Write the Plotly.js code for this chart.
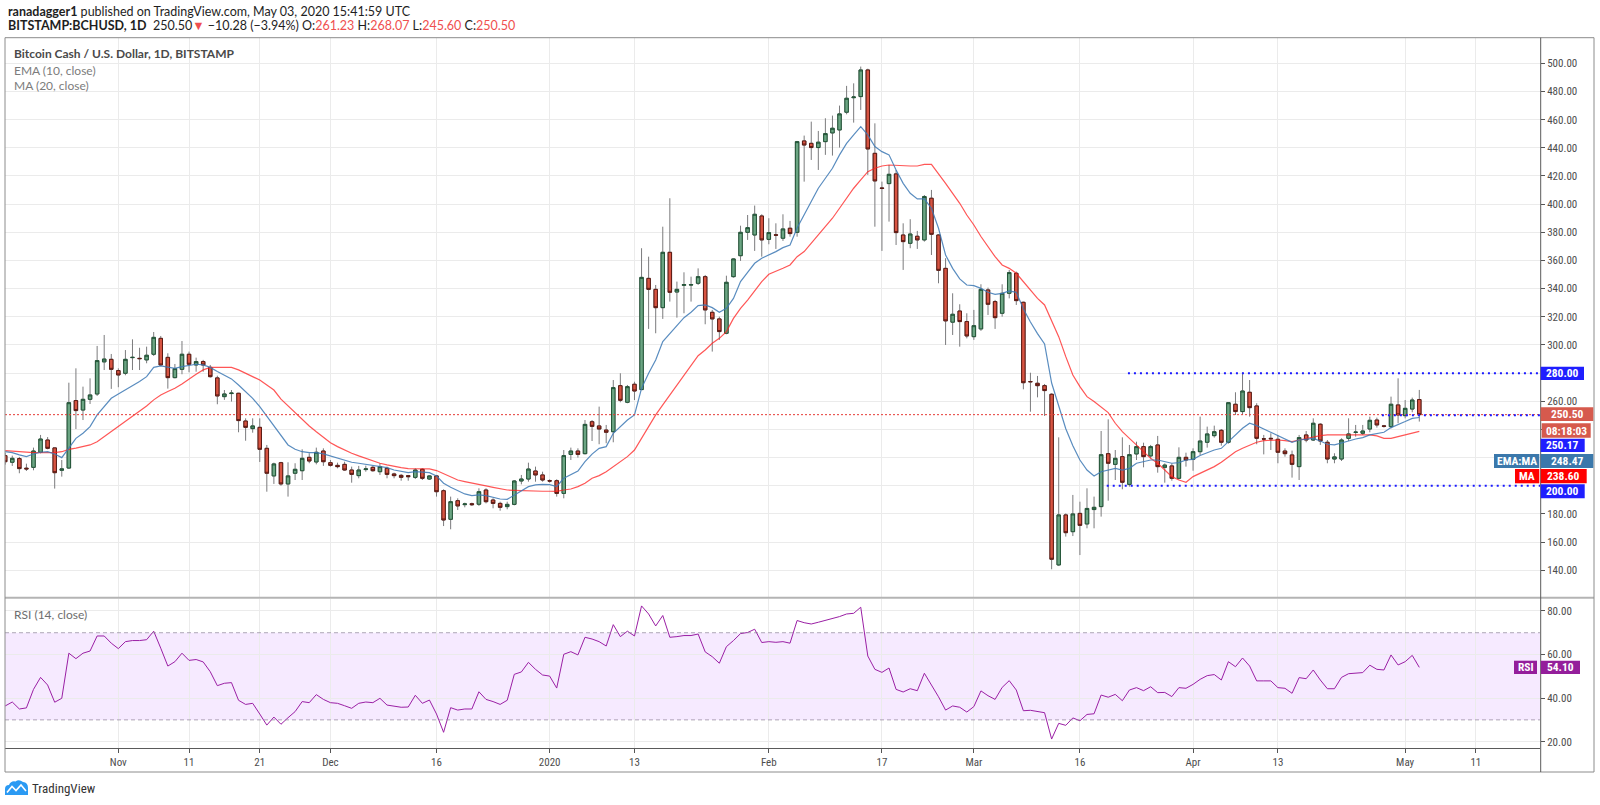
<!DOCTYPE html>
<html>
<head>
<meta charset="utf-8">
<script src="https://cdn.plot.ly/plotly-3.0.1.min.js"></script>
<style>
  html, body { margin:0; padding:0; background:#fff; }
  #chart { width:1600px; height:805px; }
</style>
</head>
<body>
<div id="chart"></div>
<script>
// ---------------- DATA (BCH/USD daily, Bitstamp, 2019-10-16 .. 2020-05-03) ----------------
const startDate = '2019-10-16';

const openPx = [
  221.4,216.7,219.3,212.5,213.1,223.8,232.5,226.9,211.0,212.6,260.5,253.8,261.4,265.2,288.0,289.8,
  281.8,279.9,291.0,290.5,289.4,293.4,304.7,291.2,276.8,282.7,293.4,285.8,288.2,284.1,276.6,263.3,265.5,265.7,246.0,240.6,241.5,226.6,207.0,216.4,201.3,208.9,210.7,220.2,216.9,224.7,
  216.4,214.5,215.2,211.2,207.2,211.5,213.1,210.0,212.4,208.4,207.4,207.2,206.0,211.7,204.8,207.0,196.5,176.2,189.4,186.6,187.3,186.9,197.0,189.9,187.5,185.2,186.8,203.4,204.8,210.5,207.7,
  203.6,203.6,194.6,222.3,224.7,222.8,245.5,242.5,239.6,238.4,271.1,259.3,272.1,268.3,347.3,339.5,326.5,365.8,337.6,342.4,342.6,343.8,348.5,323.2,318.5,308.3,348.5,363.4,380.0,378.1,391.6,
  375.0,378.2,375.8,382.9,380.0,444.9,443.2,440.2,444.4,450.6,452.7,465.3,475.6,476.4,495.3,436.1,411.5,414.6,421.5,378.1,372.2,377.2,374.6,404.2,378.1,354.4,316.2,324.1,316.6,
  305.9,311.4,339.1,330.8,322.5,336.7,350.9,330.3,274.0,272.8,271.1,265.0,143.8,179.3,167.4,180.4,172.9,183.1,185.2,222.8,215.2,220.7,201.0,222.6,227.8,221.2,229.0,213.1,214.1,205.3,220.2,
  218.8,224.2,230.9,235.6,239.4,230.9,257.9,252.7,266.4,256.7,233.3,233.7,233.0,224.7,221.9,213.6,236.1,232.5,243.7,230.9,219.0,219.0,233.7,237.9,237.3,240.3,246.7,242.5,242.0,257.4,
  249.8,254.5,261.23
];
const highPx = [
  223.5,221.4,220.5,215.7,227.1,236.1,234.6,227.0,218.3,273.2,283.4,270.4,276.3,299.3,307.1,293.6,
  283.4,296.4,304.0,298.0,298.8,309.2,306.4,294.1,286.5,302.8,295.3,291.0,289.4,285.8,278.2,268.0,268.0,266.0,247.9,247.9,247.9,229.0,216.4,217.0,216.7,216.0,225.9,223.1,227.1,226.6,
  218.3,216.4,217.1,213.6,214.1,214.3,214.1,216.0,213.6,209.3,208.4,207.7,212.4,212.4,207.4,207.7,197.5,192.3,191.1,188.0,188.0,198.2,198.2,191.1,188.7,188.7,204.1,207.7,216.4,213.6,210.0,
  204.6,204.6,225.4,227.1,226.6,246.7,246.7,256.2,243.2,275.1,279.9,271.6,273.9,368.7,362.7,342.6,384.0,404.2,345.0,351.6,348.5,354.4,349.7,324.9,320.1,349.2,361.5,384.7,392.3,399.0,392.8,
  390.0,386.4,392.8,388.1,444.9,448.7,458.6,452.0,461.0,462.9,470.0,484.0,485.8,497.7,496.2,457.4,416.0,427.8,424.3,386.4,389.3,381.0,406.5,410.1,378.6,361.6,336.7,328.9,322.5,
  324.9,343.1,340.7,332.0,343.1,353.3,352.1,330.8,280.3,278.0,272.3,265.7,234.4,180.4,193.5,188.7,198.2,192.3,238.9,247.2,225.4,234.4,229.0,231.3,230.6,229.0,235.4,215.9,215.9,227.3,223.5,
  226.6,249.1,242.0,242.7,240.3,259.3,266.4,280.4,275.1,258.6,236.1,237.3,236.1,226.6,225.0,236.1,238.9,247.9,244.4,232.5,223.1,233.7,247.9,243.2,243.2,249.1,248.4,243.2,263.3,276.3,
  260.9,262.6,268.07
];
const lowPx = [
  215.0,214.1,208.9,210.5,211.0,223.0,225.9,198.0,206.5,212.0,240.3,246.7,258.1,263.8,282.2,268.8,
  270.0,278.5,282.2,282.2,287.0,292.2,285.0,269.0,276.3,279.2,280.6,281.0,281.0,276.8,257.9,261.0,259.8,238.0,232.0,237.7,216.9,195.8,201.3,200.0,192.3,204.1,204.1,216.0,215.2,214.1,
  213.6,212.4,210.7,202.2,205.3,210.0,210.0,207.7,205.3,205.3,203.6,203.6,204.8,204.1,204.1,192.3,171.4,169.1,182.8,184.7,185.7,185.7,187.5,184.0,182.3,183.3,186.1,201.0,202.9,202.9,202.9,
  202.2,192.3,191.1,218.3,220.0,222.3,231.8,229.5,230.2,230.9,259.3,258.6,260.9,268.0,311.4,308.3,318.5,330.8,319.4,322.5,330.8,342.6,314.7,295.3,303.6,307.6,347.8,359.7,374.6,366.8,362.7,
  371.5,368.2,373.9,376.9,376.9,416.0,431.4,424.3,435.0,434.5,440.2,463.8,457.9,466.9,420.8,384.0,366.8,387.6,371.0,353.3,368.7,368.2,373.4,363.9,343.8,300.0,307.1,298.8,304.7,
  303.6,310.0,321.3,311.4,320.1,333.1,328.4,268.5,252.6,262.8,249.6,140.7,143.0,163.9,164.3,150.8,169.8,169.8,178.1,189.4,204.1,197.5,199.4,218.3,213.1,219.5,209.3,202.2,203.6,204.6,213.6,
  210.7,221.9,227.1,234.2,228.5,229.9,250.3,250.3,249.1,229.5,222.3,225.4,216.0,220.7,205.8,204.1,230.9,231.8,229.0,216.0,216.0,217.6,231.8,234.9,236.1,238.0,241.3,241.3,240.8,244.4,
  247.9,252.2,245.60
];
const closePx = [
  217.1,219.5,212.2,212.0,224.7,233.2,226.6,209.3,212.0,259.0,253.4,261.4,264.5,288.9,290.0,282.7,
  278.7,289.8,291.2,290.3,292.7,305.4,285.8,276.8,283.2,293.4,286.3,288.2,285.8,277.5,263.8,265.2,265.8,246.3,241.5,242.5,225.9,208.9,215.5,201.3,207.0,211.7,219.5,217.6,223.8,217.1,
  214.5,213.6,211.2,208.1,211.2,212.0,210.7,213.6,208.1,207.2,206.0,206.5,211.2,205.3,207.0,195.8,175.7,188.7,185.7,187.1,186.6,195.8,188.7,187.5,184.7,186.8,203.4,204.8,211.9,207.7,204.1,
  203.4,194.6,221.4,224.7,222.3,243.6,242.2,240.3,238.0,269.7,260.7,270.4,267.3,348.0,339.5,326.5,365.8,337.4,339.5,342.8,342.8,348.5,324.9,318.5,309.5,344.5,361.1,380.0,383.3,392.8,374.6,
  379.8,378.0,382.4,379.1,444.4,442.0,440.2,444.0,450.1,453.9,464.1,475.2,476.1,495.3,439.2,416.5,411.2,421.2,379.8,373.4,378.8,374.6,405.4,378.6,353.0,317.1,321.8,316.6,306.4,
  313.7,339.5,328.9,319.4,336.7,351.4,331.5,273.2,273.9,271.1,267.6,147.8,179.3,166.7,180.0,171.9,183.9,184.7,222.1,216.0,219.5,202.5,222.1,227.8,220.7,227.8,213.6,214.7,205.3,220.2,218.3,
  224.2,231.8,236.8,238.4,230.9,259.0,252.7,267.3,255.5,233.7,233.2,233.4,223.8,222.8,215.2,234.2,232.5,244.4,231.8,219.0,220.5,232.5,236.8,238.1,238.9,246.5,243.2,242.3,257.9,250.3,
  255.0,260.9,250.50
];
const ema10 = [
  224.2,223.5,222.0,220.7,222.6,223.8,224.2,222.6,220.0,226.6,233.7,237.3,242.0,250.3,256.2,262.1,
  265.2,268.0,270.9,274.0,277.5,284.1,285.1,284.1,283.4,284.6,285.6,286.3,285.8,284.1,281.1,278.2,275.9,271.6,266.9,262.1,256.2,249.6,243.0,236.0,229.0,225.9,224.2,223.5,223.5,222.6,
  221.2,219.5,218.3,216.7,216.0,215.2,214.8,214.1,212.9,211.2,210.0,209.3,210.0,209.6,209.3,207.0,201.8,198.9,196.5,194.2,193.0,193.5,193.0,191.8,190.6,190.4,193.5,196.5,199.4,200.6,201.0,
  200.8,199.5,205.3,207.7,210.5,217.1,222.5,226.6,227.8,237.3,242.0,246.7,250.3,269.2,279.9,289.3,302.4,308.3,314.2,319.4,323.2,327.9,328.4,326.5,323.2,326.0,333.1,345.0,351.6,358.0,361.6,
  363.9,366.3,369.1,371.0,383.0,392.3,401.5,411.3,418.4,425.5,435.0,443.2,449.2,455.1,449.2,440.9,437.3,435.0,424.3,414.8,407.7,403.7,403.7,397.1,382.9,363.9,354.4,346.9,342.6,
  342.1,340.2,337.4,336.0,336.7,338.4,337.4,325.7,316.3,308.1,300.7,273.0,256.0,240.5,228.5,218.3,211.2,207.0,210.0,211.2,212.4,211.2,212.4,216.0,217.1,218.3,218.3,217.1,216.0,216.4,218.3,
  218.8,221.5,223.5,225.4,226.6,231.3,236.1,240.8,244.4,242.7,240.3,238.0,235.6,233.2,230.9,232.5,233.2,233.7,231.8,229.5,229.0,230.6,231.8,233.2,234.2,236.1,237.3,238.0,241.3,243.7,
  245.6,247.9,248.5
];
const ma20 = [
  225.0,224.5,224.0,223.5,223.5,223.5,223.5,223.5,224.2,225.9,226.8,227.8,229.0,231.3,234.9,238.4,
  242.0,245.6,249.1,253.1,256.7,261.0,264.5,266.9,269.2,272.3,275.9,279.2,282.3,284.1,284.1,284.1,284.1,282.3,279.9,277.5,275.1,271.6,268.0,261.5,256.7,251.5,246.7,242.5,238.4,234.2,
  230.6,227.8,225.4,223.1,221.2,219.5,217.6,216.0,214.8,213.6,212.9,212.2,212.0,212.0,212.0,210.8,208.4,206.0,204.1,203.0,201.8,200.8,199.9,198.9,198.0,197.0,196.8,196.5,196.3,196.3,196.1,
  196.1,196.0,197.0,197.7,199.4,201.8,205.3,207.2,210.0,213.6,217.1,220.7,225.4,233.7,242.0,250.3,257.4,264.5,271.6,278.7,285.8,292.4,296.4,301.2,304.7,309.5,318.9,326.0,331.9,338.4,345.0,
  350.2,352.1,354.5,356.8,362.7,366.3,372.2,378.1,384.0,390.0,397.1,404.2,411.3,417.2,423.1,425.5,427.1,427.8,427.4,427.1,427.1,427.1,428.3,428.3,421.9,414.8,407.7,400.6,392.3,
  385.2,377.0,369.8,362.7,356.8,354.4,350.9,345.0,339.1,333.1,328.4,317.7,305.9,291.7,278.7,270.4,263.3,259.8,256.2,252.0,244.4,238.4,233.7,229.0,224.2,219.5,216.0,211.2,206.5,204.1,202.5,
  206.5,208.9,211.2,213.6,216.7,220.7,224.2,226.6,229.0,230.9,232.1,232.5,232.5,232.1,231.3,232.5,233.7,234.9,235.6,236.1,236.1,236.1,236.1,236.1,236.1,236.1,235.4,233.7,233.7,234.9,
  236.1,237.3,238.6
];
const rsi14 = [
  36.4,38.2,35.0,35.5,44.0,49.5,46.0,38.1,39.9,60.6,58.1,60.6,61.6,68.5,68.5,65.2,
  62.7,65.9,66.4,66.4,66.8,70.7,62.9,54.7,56.7,60.6,57.3,57.7,56.6,52.1,45.7,46.8,47.1,39.0,37.1,37.6,32.7,27.6,31.3,28.0,31.0,33.8,38.4,37.9,41.6,39.4,
  37.9,37.6,36.5,35.3,37.6,38.2,37.9,39.9,36.8,36.2,35.8,35.9,41.3,37.6,39.1,32.7,24.3,35.6,34.5,35.0,35.0,42.9,39.4,38.4,37.1,39.0,50.9,52.0,56.4,53.2,50.6,
  50.1,44.6,60.1,61.3,59.8,67.9,67.1,65.9,63.9,73.7,68.2,70.7,68.5,82.3,78.6,73.1,77.9,67.9,68.2,68.7,68.7,69.4,61.2,59.0,56.0,63.6,66.4,69.6,70.1,71.6,65.5,
  65.9,65.6,65.9,65.2,75.6,74.6,74.0,74.8,75.6,76.3,77.4,78.6,78.9,81.7,59.3,53.2,51.8,53.8,44.0,42.8,44.3,43.4,51.4,46.0,40.6,34.5,36.4,35.8,33.6,
  36.1,43.3,41.1,39.4,44.9,48.0,43.7,34.2,34.4,33.9,33.3,21.2,28.4,27.5,30.9,29.6,32.5,32.8,41.4,40.4,41.7,38.8,43.7,44.8,43.4,45.2,42.5,42.6,40.7,44.8,44.5,
  46.3,48.6,50.3,50.8,48.3,56.7,54.4,58.4,54.7,47.9,47.9,47.9,44.8,44.5,42.2,49.4,48.9,52.9,48.3,44.3,44.3,49.5,51.2,51.5,51.7,55.1,53.2,52.9,59.8,55.2,
  56.7,59.6,54.1
];

// horizontal line drawings (price, start date)
const hLevels = [280.00, 200.00, 250.17];
const hStarts = ['2020-03-22 19:00', '2020-03-19 19:00', '2020-04-27 17:00'];
const lastPrice = 250.50;

// price axis ticks (labels hidden where the reference covers them with value boxes)
const priceTicks = [140,160,180,200,220,240,260,280,300,320,340,360,380,400,420,440,460,480,500];
const priceTickText = ['140.00','160.00','180.00','','','','260.00','','300.00','320.00','340.00','360.00','380.00','400.00','420.00','440.00','460.00','480.00','500.00'];
const rsiTicks = [20,40,60,80];
const rsiTickText = ['20.00','40.00','60.00','80.00'];

// time axis ticks
const tickDates = ['2019-11-01','2019-11-11','2019-11-21','2019-12-01','2019-12-16','2020-01-01','2020-01-13',
                   '2020-02-01','2020-02-17','2020-03-01','2020-03-16','2020-04-01','2020-04-13','2020-05-01','2020-05-11'];
const tickLabels = ['Nov','11','21','Dec','16','2020','13','Feb','17','Mar','16','Apr','13','May','11'];

// ---------------- BUILD ----------------
const n = Math.min(openPx.length, highPx.length, lowPx.length, closePx.length, ema10.length, ma20.length, rsi14.length);
const t0 = Date.parse(startDate + 'T00:00:00Z');
const dates = [];
for (let i = 0; i < n; i++) dates.push(new Date(t0 + i * 86400000).toISOString().slice(0, 10));

const bodyHi = dates.map((d, i) => Math.max(openPx[i], closePx[i]));
const bodyLo = dates.map((d, i) => Math.min(openPx[i], closePx[i]));

const X0 = '2019-10-15 23:17', X1 = '2020-05-20 01:41';
const UP = '#6ba583', DN = '#d75442', UPB = '#225437', DNB = '#5b1a13', WICK = '#7b7b7d';
const AXF = '"Liberation Sans Narrow", "Roboto Condensed", Roboto, sans-serif';
const TXF = 'Lato, "Open Sans", sans-serif';

const traces = [
  { type:'candlestick', x:dates, open:openPx, high:highPx, low:lowPx, close:closePx,
    xaxis:'x', yaxis:'y',
    increasing:{line:{color:WICK, width:1}, fillcolor:UP},
    decreasing:{line:{color:WICK, width:1}, fillcolor:DN},
    hoverinfo:'skip', showlegend:false },
  { type:'candlestick', x:dates, open:openPx, high:bodyHi, low:bodyLo, close:closePx,
    xaxis:'x', yaxis:'y',
    increasing:{line:{color:UPB, width:1}, fillcolor:UP},
    decreasing:{line:{color:DNB, width:1}, fillcolor:DN},
    hoverinfo:'skip', showlegend:false },
  { type:'scatter', mode:'lines', x:dates, y:ma20.slice(0,n), xaxis:'x', yaxis:'y',
    line:{color:'rgba(255,30,30,0.75)', width:1.2}, hoverinfo:'skip' },
  { type:'scatter', mode:'lines', x:dates, y:ema10.slice(0,n), xaxis:'x', yaxis:'y',
    line:{color:'rgba(60,120,180,0.85)', width:1.2}, hoverinfo:'skip' },
  { type:'scatter', mode:'lines', x:dates, y:rsi14.slice(0,n), xaxis:'x', yaxis:'y2',
    line:{color:'#9a1fa4', width:1}, hoverinfo:'skip' }
];

// pixel -> paper helpers (plot area: x 5..1540, y 38..748)
const PX = p => (p - 5) / 1535;
const PY = p => (748 - p) / 710;

const shapes = [
  {type:'rect', xref:'paper', yref:'y2', x0:0, x1:1, y0:30, y1:70, fillcolor:'rgba(153,21,255,0.09)', line:{width:0}, layer:'below'},
  {type:'line', xref:'paper', yref:'y2', x0:0, x1:1, y0:70, y1:70, line:{color:'rgba(140,130,150,0.7)', width:1, dash:'4px,3px'}},
  {type:'line', xref:'paper', yref:'y2', x0:0, x1:1, y0:30, y1:30, line:{color:'rgba(140,130,150,0.7)', width:1, dash:'4px,3px'}},
  {type:'line', xref:'paper', yref:'y', x0:0, x1:1, y0:lastPrice, y1:lastPrice, line:{color:'#e53935', width:1, dash:'2px,2px'}},
];
hLevels.forEach((lv, i) => {
  shapes.push({type:'line', xref:'x', yref:'y', x0:hStarts[i], x1:X1, y0:lv, y1:lv,
               line:{color:'#1a1aff', width:2, dash:'2px,4px'}});
});
shapes.push({type:'line', xref:'paper', yref:'paper', x0:PX(5), x1:PX(1594), y0:PY(597.8), y1:PY(597.8), line:{color:'#b4b4b4', width:2}});
shapes.push({type:'rect', xref:'paper', yref:'paper', x0:PX(5), x1:PX(1594), y0:PY(37.7), y1:PY(772), line:{color:'#8c8c8c', width:1}});
shapes.push({type:'line', xref:'paper', yref:'paper', x0:PX(1540.7), x1:PX(1540.7), y0:PY(37.7), y1:PY(772), line:{color:'#5a5a5a', width:1}});

// axis label boxes  [x0,x1,yTop,yBot,color,text]
const boxes = [
  [1540.7,1584.0,366.7,380.0,'#1f1fff','280.00'],
  [1540.7,1593.3,407.3,421.0,'#d65a4d','250.50'],
  [1541.7,1590.7,423.3,437.7,'#d65a4d','08:18:03'],
  [1540.7,1584.7,438.7,452.0,'#1f1fff','250.17'],
  [1494.0,1539.3,454.0,468.0,'#3b78ab','EMA:MA'],
  [1540.7,1593.3,454.0,468.0,'#3b78ab','248.47'],
  [1515.0,1539.3,469.0,483.3,'#ff0000','MA'],
  [1540.7,1586.7,469.0,483.3,'#ff0000','238.60'],
  [1540.7,1584.7,484.3,498.3,'#1f1fff','200.00'],
  [1514.0,1537.0,660.7,674.0,'#941e9b','RSI'],
  [1540.8,1580.0,660.7,674.0,'#941e9b','54.10']
];
const annotations = [];
boxes.forEach(b => {
  shapes.push({type:'rect', xref:'paper', yref:'paper', x0:PX(b[0]), x1:PX(b[1]), y0:PY(b[2]), y1:PY(b[3]),
               fillcolor:b[4], line:{width:0}});
  annotations.push({xref:'paper', yref:'paper', x:PX((b[0]+b[1])/2), y:PY((b[2]+b[3])/2), xanchor:'center', yanchor:'middle',
                    text:'<b>'+b[5]+'</b>', showarrow:false, borderpad:0, font:{family:AXF, size:11.5, color:'#ffffff'}});
});

// TradingView logo
const lp = (x, y) => PX(x).toFixed(5) + ',' + PY(y).toFixed(5);
shapes.push({type:'path', xref:'paper', yref:'paper', fillcolor:'#2b9af3', line:{width:0},
  path:'M'+lp(5,795)+' L'+lp(5,789)+' Q'+lp(5,785)+' '+lp(9,785)+' Q'+lp(11,780.5)+' '+lp(15.5,781.5)+
       ' Q'+lp(19,779)+' '+lp(23,782)+' Q'+lp(28,782.5)+' '+lp(28,788)+' L'+lp(28,795)+' Z'});
shapes.push({type:'path', xref:'paper', yref:'paper', line:{color:'#ffffff', width:1.6},
  path:'M'+lp(7,792.5)+' L'+lp(12,786.5)+' L'+lp(16,790.5)+' L'+lp(21,785)+' L'+lp(26,791)});

const R = '#ef4f4f';
annotations.push(
  {xref:'paper', yref:'paper', x:PX(6.5), y:PY(11.7), xanchor:'left', yanchor:'middle', showarrow:false, borderpad:0,
   text:'<b>ranadagger1</b> published on TradingView.com, May 03, 2020 15:41:59 UTC',
   font:{family:TXF, size:12.5, color:'#1e1e1e'}},
  {xref:'paper', yref:'paper', x:PX(6.5), y:PY(25.9), xanchor:'left', yanchor:'middle', showarrow:false, borderpad:0,
   text:'<b>BITSTAMP:BCHUSD, 1D</b>  250.50<span style="color:'+R+'">▼</span> −10.28 (−3.94%) O:<span style="color:'+R+'">261.23</span> H:<span style="color:'+R+'">268.07</span> L:<span style="color:'+R+'">245.60</span> C:<span style="color:'+R+'">250.50</span>',
   font:{family:TXF, size:12.5, color:'#1e1e1e'}},
  {xref:'paper', yref:'paper', x:PX(13), y:PY(54), xanchor:'left', yanchor:'middle', showarrow:false, borderpad:0,
   text:'<b>Bitcoin Cash / U.S. Dollar, 1D, BITSTAMP</b>', font:{family:TXF, size:12, color:'#4a4a4a'}},
  {xref:'paper', yref:'paper', x:PX(13), y:PY(70.5), xanchor:'left', yanchor:'middle', showarrow:false, borderpad:0,
   text:'EMA (10, close)', font:{family:TXF, size:12, color:'#7c7c7c'}},
  {xref:'paper', yref:'paper', x:PX(13), y:PY(85), xanchor:'left', yanchor:'middle', showarrow:false, borderpad:0,
   text:'MA (20, close)', font:{family:TXF, size:12, color:'#7c7c7c'}},
  {xref:'paper', yref:'paper', x:PX(13), y:PY(614), xanchor:'left', yanchor:'middle', showarrow:false, borderpad:0,
   text:'RSI (14, close)', font:{family:TXF, size:12, color:'#6e6e6e'}},
  {xref:'paper', yref:'paper', x:PX(30.5), y:PY(788.5), xanchor:'left', yanchor:'middle', showarrow:false, borderpad:0,
   text:'TradingView', font:{family:AXF, size:13, color:'#333333'}}
);

const tickfont = {family:AXF, size:11, color:'#4d4d4d'};
const layout = {
  width:1600, height:805,
  margin:{l:5, r:60, t:38, b:57, pad:0},
  paper_bgcolor:'#ffffff', plot_bgcolor:'#ffffff',
  showlegend:false, hovermode:false,
  xaxis:{type:'date', range:[X0, X1], domain:[0,1], anchor:'y2',
         tickmode:'array', tickvals:tickDates, ticktext:tickLabels,
         showgrid:true, gridcolor:'#ebebeb', gridwidth:1,
         ticks:'outside', ticklen:4, tickcolor:'#555', tickfont:tickfont,
         showline:true, linecolor:'#5a5a5a', linewidth:1,
         zeroline:false, rangeslider:{visible:false}, fixedrange:true},
  yaxis:{domain:[PY(597.3), 1], anchor:'x', side:'right', range:[120.8, 518.0],
         tickmode:'array', tickvals:priceTicks, ticktext:priceTickText,
         showgrid:true, gridcolor:'#ebebeb', gridwidth:1,
         ticks:'outside', ticklen:4, tickcolor:'#555', tickfont:tickfont,
         showline:false, zeroline:false, fixedrange:true},
  yaxis2:{domain:[0, PY(598.5)], anchor:'x', side:'right', range:[17.1, 85.7],
          tickmode:'array', tickvals:rsiTicks, ticktext:rsiTickText,
          showgrid:true, gridcolor:'#ebebeb', gridwidth:1,
          ticks:'outside', ticklen:4, tickcolor:'#555', tickfont:tickfont,
          showline:false, zeroline:false, fixedrange:true},
  shapes:shapes,
  annotations:annotations
};

Plotly.newPlot('chart', traces, layout, {staticPlot:true, displayModeBar:false});
</script>
</body>
</html>
